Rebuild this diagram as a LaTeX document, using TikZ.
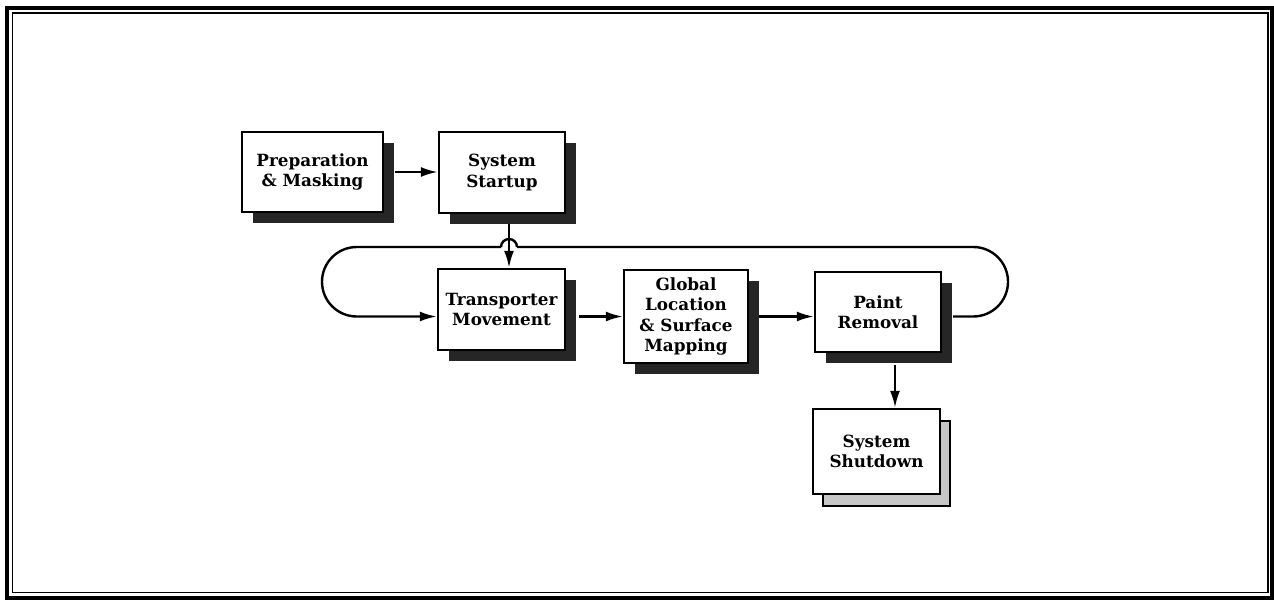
\documentclass[tikz,border=0pt]{standalone}
\usepackage{fontspec}
\setmainfont{DejaVu Serif}
\usetikzlibrary{arrows.meta,shadows,calc}
\begin{document}
\begin{tikzpicture}[x=1pt,y=-1pt,
  stepbox/.style={draw=black,line width=2.4pt,fill=white,rectangle,
    align=center,font=\bfseries\fontsize{16.8}{20.5}\selectfont,inner sep=0pt,
    general shadow={shadow xshift=11pt,shadow yshift=-11pt,fill=black!85}},
  lightbox/.style={draw=black,line width=2.4pt,fill=white,rectangle,
    align=center,font=\bfseries\fontsize{16.8}{20.5}\selectfont,inner sep=0pt,
    general shadow={shadow xshift=10pt,shadow yshift=-12pt,fill=black!22,draw=black,line width=1.2pt}},
  conn/.style={line width=2.4pt,-{Latex[length=17pt,width=10pt]}},
  plain/.style={line width=2.4pt}]
\useasboundingbox (0,0) rectangle (1274,602);
% frame
\draw[line width=3.2pt] (7,8) rectangle (1272,598);
\draw[line width=1.8pt] (12.5,13) rectangle (1268,592.5);
% nodes
\node[stepbox,minimum width=141pt,minimum height=80pt] (prep) at (312.5,172) {Preparation\\\& Masking};
\node[stepbox,minimum width=126pt,minimum height=81pt] (start) at (502,172.5) {System\\Startup};
\node[stepbox,minimum width=127pt,minimum height=81pt] (trans) at (501.5,309.5) {Transporter\\Movement};
\node[stepbox,minimum width=124pt,minimum height=93pt] (glob) at (686,316.5) {Global\\Location\\\& Surface\\Mapping};
\node[stepbox,minimum width=126pt,minimum height=80pt] (paint) at (878,312) {Paint\\Removal};
\node[lightbox,minimum width=127pt,minimum height=85pt] (shut) at (876.5,451.5) {System\\Shutdown};
% helper coordinates
\path (prep.east) ++(11,0) coordinate (p1);
\path (start.south) ++(7,10) coordinate (s1);
\path (trans.east) ++(13,0) coordinate (t1);
\path (glob.east) ++(10,0) coordinate (g1);
\path (paint.east) ++(11,0) coordinate (r1);
\path (paint.south) ++(17,12) coordinate (d1);
\coordinate (rc1) at (1008,316.5);
\coordinate (rc2) at (1008,247);
\coordinate (h1) at (517,247);
\coordinate (h2) at (501,247);
\coordinate (lc1) at (322,247);
\coordinate (lc2) at (322,316.5);
% connectors
\draw[conn] (p1) -- (p1 -| start.west);
\draw[conn] (s1) -- (s1 |- trans.north);
\draw[conn] (t1 |- glob.west) -- (glob.west);
\draw[conn] (g1) -- (g1 -| paint.west);
\draw[conn] (d1) -- (d1 |- shut.north);
\draw[plain,rounded corners=34.75pt] (r1 |- g1) -- (rc1) -- (rc2) -- (h1);
\draw[plain] (h1) arc[start angle=0,end angle=-180,radius=8];
\draw[conn,rounded corners=34.75pt] (h2) -- (lc1) -- (lc2) -- (lc2 -| trans.west);
\end{tikzpicture}
\end{document}
